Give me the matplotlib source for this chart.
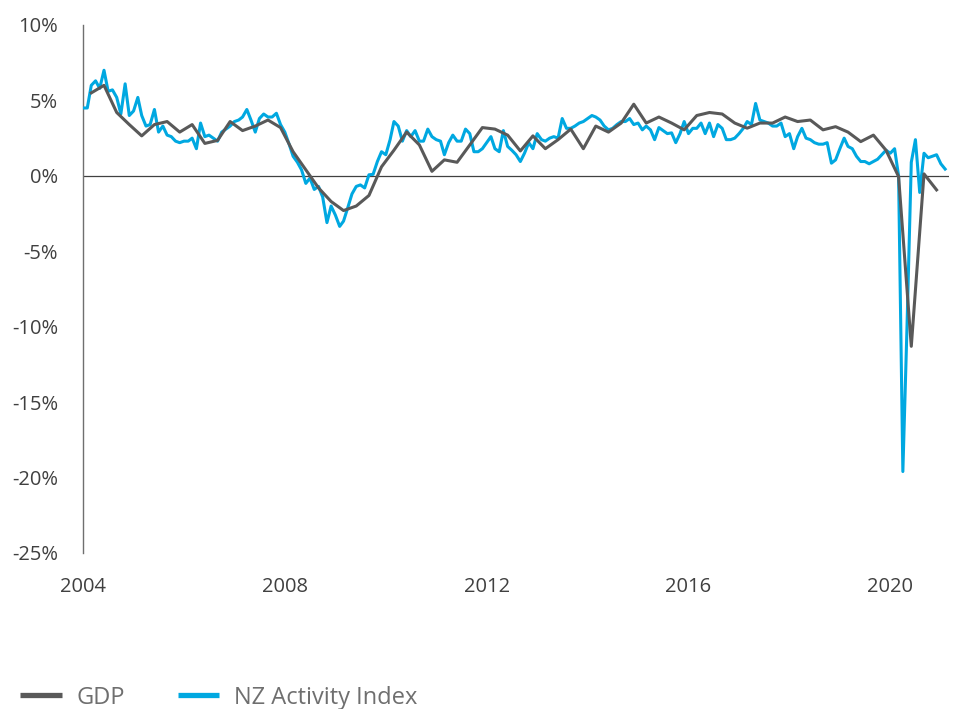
import matplotlib
matplotlib.use('Agg')
import matplotlib.pyplot as plt
import matplotlib.dates as mdates
import matplotlib.ticker as mticker
import pandas as pd

plt.rcParams['font.family'] = ['Open Sans', 'DejaVu Sans']

# annual % change, NZ Activity Index (monthly, from Jan 2004)
nzai = [4.5, 4.5, 6.0, 6.3, 5.8, 7.0, 5.6, 5.7, 5.2, 4.1,
        6.1, 4.0, 4.3, 5.2, 4.0, 3.3, 3.4, 4.4, 2.9, 3.3,
        2.7, 2.6, 2.3, 2.2, 2.3, 2.3, 2.5, 1.8, 3.5, 2.6,
        2.7, 2.5, 2.3, 2.9, 3.1, 3.3, 3.6, 3.7, 3.9, 4.4,
        3.7, 2.9, 3.8, 4.1, 3.9, 3.9, 4.15, 3.4, 2.9, 2.1,
        1.3, 0.9, 0.4, -0.5, -0.15, -0.9, -0.7, -1.4, -3.1, -2.0,
        -2.6, -3.35, -3.0, -2.1, -1.2, -0.7, -0.6, -0.8, 0.07, 0.1,
        0.95, 1.6, 1.4, 2.4, 3.6, 3.3, 2.3, 3.0, 2.6, 3.0,
        2.3, 2.3, 3.1, 2.6, 2.4, 2.3, 1.4, 2.2, 2.7, 2.3,
        2.3, 3.1, 2.8, 1.6, 1.6, 1.8, 2.2, 2.6, 1.8, 1.6,
        3.0, 1.95, 1.7, 1.4, 0.95, 1.5, 2.2, 1.8, 2.8, 2.4,
        2.3, 2.5, 2.6, 2.5, 3.8, 3.15, 3.15, 3.3, 3.5, 3.6,
        3.8, 4.0, 3.9, 3.7, 3.3, 3.05, 3.15, 3.4, 3.6, 3.6,
        3.8, 3.4, 3.5, 3.05, 3.3, 3.05, 2.4, 3.2, 3.0, 2.8,
        2.85, 2.2, 2.8, 3.6, 2.8, 3.15, 3.15, 3.5, 2.8, 3.5,
        2.6, 3.4, 3.15, 2.4, 2.4, 2.5, 2.8, 3.15, 3.6, 3.4,
        4.8, 3.7, 3.6, 3.5, 3.3, 3.3, 3.5, 2.6, 2.8, 1.8,
        2.6, 3.15, 2.5, 2.4, 2.2, 2.1, 2.1, 2.2, 0.84, 1.06,
        1.8, 2.5, 1.95, 1.8, 1.3, 0.95, 0.95, 0.8, 0.95, 1.1,
        1.4, 1.7, 1.5, 1.8, 0.0, -19.6, -10.0, 0.9, 2.4, -1.1,
        1.5, 1.2, 1.3, 1.4, 0.8, 0.45]

# annual % change, GDP (quarterly, from Mar 2004)
gdp = [5.5, 6.0, 4.2, 3.4, 2.65, 3.4, 3.6, 2.9, 3.4, 2.15,
       2.35, 3.6, 3.0, 3.3, 3.7, 3.2, 1.6, 0.4, -0.8, -1.7,
       -2.3, -2.0, -1.3, 0.6, 1.7, 2.9, 2.05, 0.3, 1.06, 0.9,
       2.05, 3.2, 3.1, 2.7, 1.65, 2.65, 1.8, 2.4, 3.1, 1.8,
       3.3, 2.9, 3.5, 4.75, 3.5, 3.9, 3.5, 3.05, 4.0, 4.2,
       4.1, 3.5, 3.16, 3.5, 3.5, 3.9, 3.6, 3.7, 3.05, 3.26,
       2.9, 2.27, 2.7, 1.7, -0.05, -11.3, 0.13, -0.93]

nzai_dates = pd.date_range('2004-01-01', periods=len(nzai), freq='MS')
gdp_dates = pd.date_range('2004-03-01', periods=len(gdp), freq='3MS')

grey = '#595959'
blue = '#00a8e1'

fig = plt.figure(figsize=(9.57, 7.09), dpi=100)
ax = fig.add_axes([83/957, 156/709, 866/957, 528/709])

ax.plot(nzai_dates, nzai, color=blue, lw=2.2, label='NZ Activity Index', zorder=3)
ax.plot(gdp_dates, gdp, color=grey, lw=2.2, label='GDP', zorder=4)
ax.axhline(0, color='#404040', lw=0.9, zorder=2)

ax.set_ylim(-25, 10)
ax.set_xlim(pd.Timestamp('2004-01-01'), pd.Timestamp('2021-03-01'))
ax.yaxis.set_major_locator(mticker.MultipleLocator(5))
ax.yaxis.set_major_formatter(mticker.FuncFormatter(lambda v, p: f'{v:.0f}%'))
ax.xaxis.set_major_locator(mdates.YearLocator(4))
ax.xaxis.set_major_formatter(mdates.DateFormatter('%Y'))

for s in ['top', 'right', 'bottom']:
    ax.spines[s].set_visible(False)
ax.spines['left'].set_color('#6f6f6f')
ax.spines['left'].set_linewidth(1.0)
ax.tick_params(axis='y', length=0, pad=18, labelsize=14.5, labelcolor='#404040')
ax.tick_params(axis='x', length=0, pad=17, labelsize=14.5, labelcolor='#404040')

handles, labels = ax.get_legend_handles_labels()
leg = ax.legend(handles[::-1], labels[::-1], loc='center left',
                bbox_to_anchor=(-84/866, -0.274), ncol=2, frameon=False,
                fontsize=17, handlelength=1.75, handletextpad=0.65,
                columnspacing=2.22, labelcolor='#6f6f6f')
for h in leg.get_lines():
    h.set_linewidth(3.8)
    h.set_solid_capstyle('butt')

fig.savefig('out.png', dpi=100)
